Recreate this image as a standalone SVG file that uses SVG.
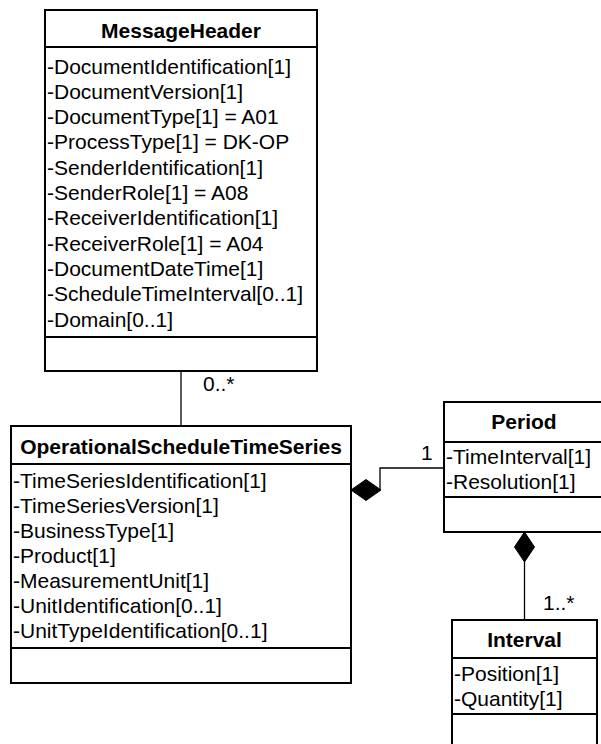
<svg xmlns="http://www.w3.org/2000/svg" width="601" height="744" viewBox="0 0 601 744">
<style>
.box{fill:#fff;stroke:#000;stroke-width:2}
.div{stroke:#000;stroke-width:2}
.t{font-family:"Liberation Sans",Arial,sans-serif;font-size:21px;fill:#000}
.b{font-weight:bold;text-anchor:middle}
.c{fill:none;stroke:#000;stroke-width:1.3}
.dia{fill:#000;stroke:#000;stroke-width:1}
</style>
<rect width="601" height="744" fill="#fff"/>
<g id="connectors">
<line class="c" x1="181" y1="371" x2="181" y2="426"/>
<text class="t" x="203" y="391">0..*</text>
<polyline class="c" points="380,490 380,468 444,468"/>
<polygon class="dia" points="351,490 366,479.5 381,490 366,500.5"/>
<text class="t" x="421" y="460">1</text>
<line class="c" x1="524.5" y1="562" x2="524.5" y2="620"/>
<polygon class="dia" points="524.5,532 534.5,547 524.5,562 514.5,547"/>
<text class="t" x="543" y="610">1..*</text>
</g>
<g id="MessageHeader">
<rect class="box" x="45" y="10" width="272" height="361"/>
<line class="div" x1="45" y1="47" x2="317" y2="47"/>
<line class="div" x1="45" y1="337" x2="317" y2="337"/>
<text class="t b" x="181" y="37.5">MessageHeader</text>
<text class="t" x="47" y="73.5">-DocumentIdentification[1]</text>
<text class="t" x="47" y="98.8">-DocumentVersion[1]</text>
<text class="t" x="47" y="124.1">-DocumentType[1] = A01</text>
<text class="t" x="47" y="149.4">-ProcessType[1] = DK-OP</text>
<text class="t" x="47" y="174.7">-SenderIdentification[1]</text>
<text class="t" x="47" y="200">-SenderRole[1] = A08</text>
<text class="t" x="47" y="225.3">-ReceiverIdentification[1]</text>
<text class="t" x="47" y="250.6">-ReceiverRole[1] = A04</text>
<text class="t" x="47" y="275.9">-DocumentDateTime[1]</text>
<text class="t" x="47" y="301.2">-ScheduleTimeInterval[0..1]</text>
<text class="t" x="47" y="326.5">-Domain[0..1]</text>
</g>
<g id="OperationalScheduleTimeSeries">
<rect class="box" x="11" y="426" width="340" height="257"/>
<line class="div" x1="11" y1="464" x2="351" y2="464"/>
<line class="div" x1="11" y1="648" x2="351" y2="648"/>
<text class="t b" x="181" y="453.5">OperationalScheduleTimeSeries</text>
<text class="t" x="13" y="487.5">-TimeSeriesIdentification[1]</text>
<text class="t" x="13" y="512.5">-TimeSeriesVersion[1]</text>
<text class="t" x="13" y="537.5">-BusinessType[1]</text>
<text class="t" x="13" y="562.5">-Product[1]</text>
<text class="t" x="13" y="587.5">-MeasurementUnit[1]</text>
<text class="t" x="13" y="612.5">-UnitIdentification[0..1]</text>
<text class="t" x="13" y="637.5">-UnitTypeIdentification[0..1]</text>
</g>
<g id="Period">
<rect class="box" x="444" y="402" width="160" height="130"/>
<line class="div" x1="444" y1="442" x2="604" y2="442"/>
<line class="div" x1="444" y1="497" x2="604" y2="497"/>
<text class="t b" x="524" y="429">Period</text>
<text class="t" x="446" y="464">-TimeInterval[1]</text>
<text class="t" x="446" y="489">-Resolution[1]</text>
</g>
<g id="Interval">
<rect class="box" x="452" y="620" width="145" height="130"/>
<line class="div" x1="452" y1="658" x2="597" y2="658"/>
<line class="div" x1="452" y1="714" x2="597" y2="714"/>
<text class="t b" x="524.5" y="646.5">Interval</text>
<text class="t" x="454" y="681">-Position[1]</text>
<text class="t" x="454" y="706">-Quantity[1]</text>
</g>
</svg>
